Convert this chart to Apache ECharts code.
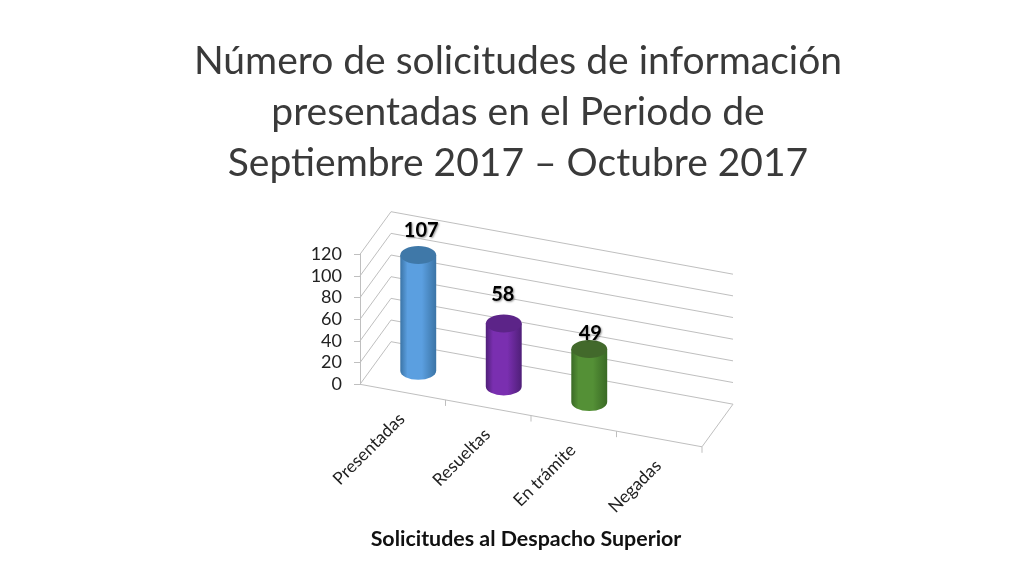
<!DOCTYPE html>
<html><head><meta charset="utf-8">
<style>html,body{margin:0;padding:0;background:#fff}#c{width:1024px;height:576px}</style>
<script src="https://cdn.jsdelivr.net/npm/echarts@6/dist/echarts.min.js"></script>
</head><body><div id="c"></div>
<script>
const titleLines = ['Número de solicitudes de información','presentadas en el Periodo de','Septiembre 2017 – Octubre 2017'];
const axisTitle = 'Solicitudes al Despacho Superior';
const categories = ['Presentadas','Resueltas','En trámite','Negadas'];
const values = [107,58,49,null];
const yTicks = [0,20,40,60,80,100,120];
const barColors = [
  {edge:'#3b74a6',mid:'#5b9fe0',top:'#3f78a8'},
  {edge:'#4f1f78',mid:'#7a2fb0',top:'#5c2488'},
  {edge:'#3a6a25',mid:'#549036',top:'#42692b'}
];
const labelLift = [25,30,16];
const labelShift = [3,-1,1];
const SLOPE = 0.1827, DX = 31, DY = 42.6;
const FONT = 'Lato, Carlito, sans-serif';
const GRID = '#bfbfbf';

function proj(api, cat, val, depth){
  const c = api.coord([0,val]), b = api.size([1,0])[0];
  const x = c[0] + cat*b;
  const dxFromLeft = (cat+0.5)*b;
  return [x + depth*DX, c[1] + dxFromLeft*SLOPE - depth*DY];
}
const lineStyle = {stroke:GRID, lineWidth:1, fill:null};

const chart = echarts.init(document.getElementById('c'),null,{renderer:'canvas'});
chart.setOption({
  backgroundColor:'#fff',
  animation:false,
  title:[
    {text:titleLines.join('\n'),left:513,top:31,textAlign:'center',
     textStyle:{fontFamily:FONT,fontWeight:400,fontSize:39,lineHeight:51,color:'#3a3a3a'}},
    {text:axisTitle,left:521,top:524,textAlign:'center',
     textStyle:{fontFamily:FONT,fontWeight:'bold',fontSize:21.4,color:'#111'}}
  ],
  grid:{left:360,top:254.3,width:342,height:130,containLabel:false},
  xAxis:{type:'category',data:categories,show:false},
  yAxis:{type:'value',min:0,max:120,interval:20,
    axisLine:{show:true,lineStyle:{color:GRID}},
    axisTick:{show:true,length:6,lineStyle:{color:GRID}},
    splitLine:{show:false},
    axisLabel:{margin:18,fontFamily:FONT,fontSize:18,color:'#222',padding:[6,0,0,0]}},
  series:[
    {type:'custom',silent:true,clip:false,z:1,
     data:yTicks.map(v=>[0,v]),
     renderItem(p,api){
       const v=api.value(1);
       const a=proj(api,-0.5,v,0),b=proj(api,-0.5,v,1),c=proj(api,3.5,v,1);
       return {type:'polyline',shape:{points:[a,b,c]},style:lineStyle};
     }},
    {type:'custom',silent:true,clip:false,z:1,
     data:[[0,0]],
     renderItem(p,api){
       const a=proj(api,-0.5,0,0),b=proj(api,3.5,0,0),c=proj(api,3.5,0,1);
       return {type:'polyline',shape:{points:[a,b,c]},style:lineStyle};
     }},
    {type:'custom',silent:true,clip:false,z:2,
     data:categories.map((_,i)=>[i,0]),
     renderItem(p,api){
       const i=api.value(0);
       const e=proj(api,i+0.5,0,0), s=proj(api,i,0,0);
       return {type:'group',children:[
         {type:'line',shape:{x1:e[0],y1:e[1],x2:e[0],y2:e[1]+6},style:{stroke:GRID,lineWidth:1}},
         {type:'text',x:s[0]-1,y:s[1]+24,rotation:Math.PI/4,
          style:{text:categories[i],align:'right',verticalAlign:'middle',
                 font:'17.5px '+FONT,fill:'#222'}}
       ]};
     }},
    {type:'custom',silent:true,clip:false,z:3,
     data:values.map((v,i)=>[i,v]),
     renderItem(p,api){
       const i=api.value(0), v=api.value(1);
       if(v==null||isNaN(v)) return null;
       const b=proj(api,i,0,0.5), t=proj(api,i,v,0.5);
       const rx=api.size([1,0])[0]*0.21, ry=9, col=barColors[i];
       const grad=new echarts.graphic.LinearGradient(0,0,1,0,[
         {offset:0,color:col.edge},{offset:0.2,color:col.mid},
         {offset:0.6,color:col.mid},{offset:1,color:col.edge}]);
       return {type:'group',children:[
         {type:'path',shape:{pathData:`M${b[0]-rx} ${t[1]}L${b[0]-rx} ${b[1]}A${rx} ${ry} 0 0 0 ${b[0]+rx} ${b[1]}L${b[0]+rx} ${t[1]}Z`,
            layout:'cover',x:b[0]-rx,y:t[1],width:2*rx,height:b[1]-t[1]+ry},style:{fill:grad}},
         {type:'ellipse',shape:{cx:t[0],cy:t[1],rx:rx,ry:ry},style:{fill:col.top}},
         {type:'text',x:t[0]+labelShift[i],y:t[1]-labelLift[i]+1,
          style:{text:String(v),align:'center',verticalAlign:'middle',
                 font:'bold 20px '+FONT,fill:'#000',
                 textShadowColor:'rgba(0,0,0,0.4)',textShadowBlur:2,textShadowOffsetX:1,textShadowOffsetY:1}}
       ]};
     }}
  ]
});
</script></body></html>
